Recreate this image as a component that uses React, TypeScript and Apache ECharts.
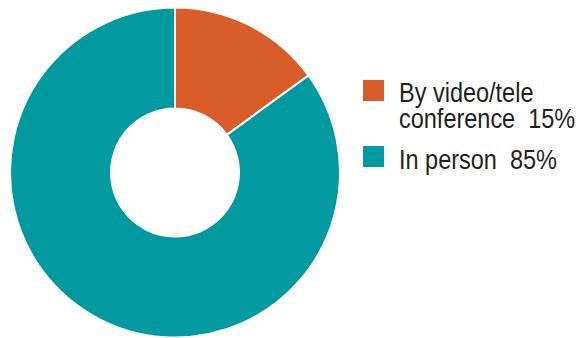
import React, { useEffect, useRef } from "react";
import * as echarts from "echarts";

const categories = ["By video/tele\nconference", "In person"];
const values = [15, 85];
const colors = ["#D95D2A", "#0399A1"];
const legendTops = [80, 146];

export default function App() {
  const ref = useRef<HTMLDivElement>(null);
  useEffect(() => {
    const chart = echarts.init(ref.current!, undefined, { renderer: "svg" });
    const font = "'Liberation Sans', Arial, sans-serif";
    const graphic: any[] = [];
    categories.forEach((c, i) => {
      graphic.push({
        type: "rect",
        x: 363,
        y: legendTops[i],
        shape: { x: 0, y: 0, width: 21, height: 21 },
        style: { fill: colors[i] },
      });
      graphic.push({
        type: "text",
        x: 399,
        y: legendTops[i] - 1 + (i === 0 ? 0 : 1),
        scaleX: 0.87,
        style: {
          x: 0,
          y: 0,
          text: `${c}  ${values[i]}%`,
          font: `27px ${font}`,
          lineHeight: 26,
          fill: "#231F20",
          verticalAlign: "top",
        },
      });
    });
    chart.setOption({
      animation: false,
      series: [
        {
          type: "pie",
          center: [175, 172.5],
          radius: [64, 165],
          startAngle: 90,
          clockwise: true,
          label: { show: false },
          labelLine: { show: false },
          emphasis: { disabled: true },
          itemStyle: { borderColor: "#fff", borderWidth: 2 },
          data: categories.map((c, i) => ({
            name: c,
            value: values[i],
            itemStyle: { color: colors[i] },
          })),
        },
      ],
      graphic,
    });
    return () => chart.dispose();
  }, []);
  return <div ref={ref} style={{ width: 579, height: 338, position: "absolute", left: 0, top: 0 }} />;
}
